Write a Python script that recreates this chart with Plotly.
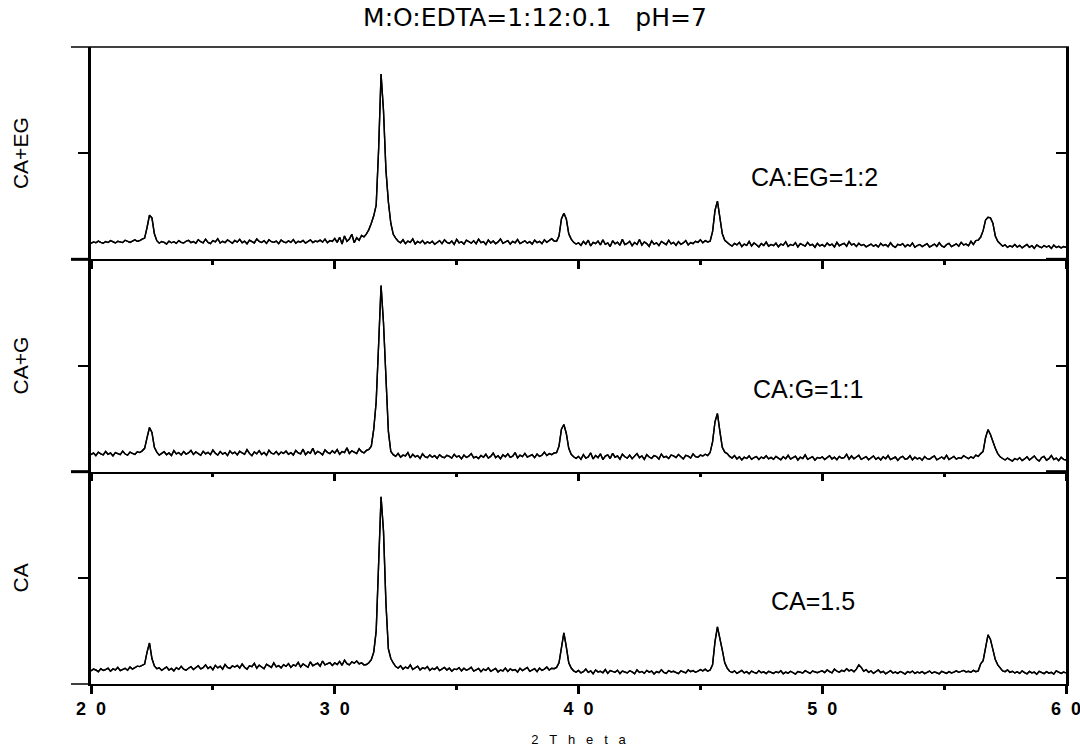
import numpy as np
import plotly.graph_objects as go
from plotly.subplots import make_subplots

# Scan settings: 2-theta from 20 to 60 degrees, 0.1 degree step
TWO_THETA_START = 20.0
TWO_THETA_STEP = 0.1

# Diffraction intensities (arbitrary units, 0-1000 per panel)
ca_eg = [
    75, 82, 78, 86, 80, 76, 84, 79, 88, 81, 77, 85, 83, 79, 90, 84, 80, 86, 92, 85,
    88, 95, 100, 150, 208, 195, 120, 88, 76, 84, 80, 72, 86, 78, 83, 75, 88, 80, 77, 85,
    90, 79, 84, 76, 92, 83, 78, 95, 80, 74, 88, 82, 97, 77, 85, 79, 91, 84, 76, 89,
    81, 94, 78, 86, 73, 90, 82, 77, 96, 84, 79, 88, 75, 92, 83, 80, 86, 74, 91, 82,
    78, 87, 80, 93, 76, 85, 81, 89, 77, 84, 92, 79, 86, 83, 90, 81, 95, 78, 88, 84,
    98, 80, 104, 72, 110, 85, 96, 118, 78, 102, 90, 112, 106, 120, 140, 170, 205, 255, 520, 873,
    700, 420, 270, 170, 118, 100, 85, 78, 92, 74, 86, 80, 96, 72, 84, 77, 88, 73, 82, 76,
    85, 71, 79, 88, 74, 92, 80, 75, 86, 70, 94, 78, 83, 72, 90, 81, 76, 87, 73, 95,
    79, 84, 70, 91, 77, 86, 73, 82, 96, 75, 80, 88, 72, 85, 78, 93, 74, 81, 87, 76,
    83, 72, 90, 79, 85, 74, 92, 80, 88, 97, 86, 85, 110, 190, 217, 190, 120, 95, 80, 72,
    78, 66, 84, 72, 90, 63, 80, 74, 86, 68, 92, 71, 77, 60, 88, 73, 81, 66, 94, 70,
    75, 85, 64, 79, 70, 93, 67, 82, 74, 61, 87, 72, 78, 65, 84, 76, 69, 90, 73, 80,
    66, 83, 71, 77, 88, 68, 79, 74, 85, 80, 92, 78, 88, 82, 85, 130, 230, 274, 200, 120,
    90, 78, 70, 62, 75, 68, 80, 60, 72, 66, 84, 63, 77, 69, 58, 74, 65, 81, 62, 70,
    64, 76, 59, 72, 67, 83, 61, 70, 65, 78, 58, 74, 68, 62, 80, 66, 71, 57, 75, 63,
    69, 60, 77, 66, 72, 58, 80, 64, 70, 75, 62, 84, 68, 73, 61, 76, 65, 70, 59, 67,
    72, 62, 68, 58, 75, 64, 70, 60, 78, 63, 56, 71, 66, 74, 59, 69, 62, 77, 57, 65,
    70, 60, 67, 74, 58, 65, 72, 61, 78, 63, 57, 69, 75, 60, 66, 73, 62, 80, 68, 72,
    64, 85, 70, 88, 90, 105, 135, 185, 198, 195, 170, 110, 85, 75, 62, 68, 56, 64, 59, 70,
    58, 66, 54, 62, 70, 57, 64, 52, 68, 60, 55, 65, 58, 63, 51, 67, 56, 61, 54, 60,
    57,
]

ca_g = [
    80, 88, 76, 92, 84, 79, 95, 82, 88, 74, 90, 85, 80, 97, 83, 78, 92, 86, 81, 94,
    90, 98, 110, 160, 208, 185, 115, 92, 78, 86, 94, 80, 88, 76, 99, 84, 90, 79, 95, 83,
    88, 100, 81, 93, 86, 77, 96, 84, 91, 80, 102, 87, 78, 95, 83, 90, 76, 98, 85, 92,
    79, 96, 88, 82, 104, 86, 75, 93, 84, 99, 81, 90, 77, 101, 87, 83, 95, 80, 92, 86,
    97, 82, 90, 78, 100, 88, 84, 106, 80, 93, 87, 110, 83, 96, 89, 79, 102, 91, 85, 98,
    88, 104, 82, 95, 90, 112, 86, 98, 92, 85, 108, 94, 88, 100, 105, 120, 200, 330, 600, 877,
    700, 430, 190, 95, 80, 72, 86, 68, 78, 74, 90, 65, 82, 70, 76, 62, 84, 71, 66, 79,
    68, 75, 63, 80, 70, 66, 77, 72, 64, 81, 69, 74, 60, 78, 67, 73, 85, 65, 71, 62,
    76, 68, 82, 64, 72, 88, 66, 75, 61, 79, 70, 84, 67, 73, 90, 65, 78, 71, 86, 69,
    74, 80, 66, 83, 72, 78, 92, 76, 85, 80, 88, 90, 120, 200, 222, 180, 110, 82, 70, 63,
    72, 58, 80, 64, 69, 88, 60, 76, 66, 84, 57, 73, 79, 62, 86, 68, 74, 59, 82, 70,
    64, 78, 61, 72, 85, 66, 74, 58, 80, 69, 63, 76, 71, 59, 83, 67, 72, 62, 78, 74,
    66, 81, 70, 60, 77, 73, 64, 84, 71, 68, 78, 74, 82, 76, 90, 140, 235, 274, 190, 115,
    92, 85, 72, 64, 76, 60, 70, 55, 68, 62, 74, 58, 66, 71, 57, 69, 63, 75, 60, 67,
    58, 72, 64, 56, 70, 61, 77, 59, 66, 73, 55, 68, 62, 79, 58, 65, 71, 54, 67, 63,
    70, 57, 64, 75, 60, 68, 56, 72, 63, 66, 82, 59, 74, 61, 69, 77, 58, 65, 71, 56,
    63, 74, 58, 67, 55, 70, 61, 76, 57, 64, 69, 53, 66, 72, 59, 62, 75, 56, 68, 60,
    65, 54, 71, 61, 58, 67, 74, 56, 63, 69, 60, 77, 57, 64, 72, 59, 66, 62, 75, 68,
    61, 70, 64, 78, 72, 85, 95, 160, 198, 175, 140, 110, 85, 70, 62, 55, 64, 58, 50, 62,
    56, 66, 52, 60, 70, 55, 63, 74, 58, 50, 66, 72, 54, 61, 76, 57, 64, 52, 68, 58,
    55,
]

ca = [
    62, 70, 66, 58, 72, 64, 68, 75, 60, 71, 66, 78, 63, 69, 74, 65, 80, 70, 76, 84,
    82, 88, 94, 150, 193, 120, 85, 72, 76, 64, 71, 80, 66, 73, 62, 77, 69, 83, 70, 65,
    74, 82, 68, 79, 86, 71, 77, 90, 73, 81, 67, 88, 76, 84, 70, 92, 78, 73, 85, 80,
    88, 75, 94, 79, 70, 86, 82, 97, 74, 89, 80, 72, 93, 84, 78, 99, 81, 87, 76, 91,
    83, 96, 78, 90, 85, 102, 80, 94, 88, 79, 104, 86, 92, 98, 84, 108, 90, 95, 101, 87,
    99, 92, 106, 88, 112, 96, 90, 104, 98, 108, 95, 100, 90, 92, 100, 115, 150, 250, 560, 882,
    720, 380, 165, 120, 99, 82, 75, 86, 70, 80, 74, 90, 68, 78, 84, 66, 76, 72, 82, 64,
    74, 69, 80, 63, 72, 78, 66, 75, 60, 71, 68, 77, 62, 74, 65, 70, 79, 61, 67, 73,
    58, 70, 64, 76, 60, 68, 73, 57, 66, 62, 75, 59, 71, 64, 68, 56, 74, 63, 69, 78,
    60, 67, 72, 58, 75, 64, 70, 80, 66, 74, 72, 78, 100, 170, 241, 175, 100, 75, 62, 56,
    64, 52, 58, 70, 55, 62, 48, 66, 57, 60, 53, 68, 50, 63, 58, 55, 65, 49, 61, 56,
    52, 62, 57, 48, 66, 54, 59, 50, 64, 56, 61, 47, 58, 53, 67, 55, 50, 63, 57, 60,
    54, 49, 62, 57, 52, 66, 58, 63, 55, 60, 68, 62, 70, 60, 66, 90, 200, 269, 220, 160,
    100, 75, 60, 54, 62, 50, 57, 64, 52, 58, 48, 61, 55, 50, 63, 53, 57, 49, 60, 55,
    50, 58, 53, 62, 48, 56, 51, 60, 54, 47, 59, 55, 52, 63, 57, 50, 61, 56, 53, 58,
    62, 54, 66, 58, 52, 70, 60, 56, 64, 59, 72, 62, 67, 58, 70, 90, 78, 60, 68, 55,
    62, 50, 58, 66, 54, 60, 48, 57, 63, 52, 56, 50, 59, 54, 47, 58, 53, 61, 50, 56,
    52, 58, 49, 55, 61, 51, 57, 53, 48, 60, 54, 50, 58, 52, 56, 62, 55, 59, 64, 57,
    60, 55, 64, 58, 62, 95, 110, 170, 231, 210, 165, 115, 90, 75, 62, 58, 66, 55, 60, 52,
    57, 50, 62, 54, 48, 59, 52, 56, 46, 60, 53, 49, 58, 51, 55, 47, 62, 54, 50, 56,
    52,
]

panel_names = ["CA+EG", "CA+G", "CA"]
panel_notes = ["CA:EG=1:2", "CA:G=1:1", "CA=1.5"]
note_x = [49.7, 49.4, 49.6]
note_y = [390, 390, 390]

NB = "\u00a0"
x_tick_vals = [20, 30, 40, 50, 60]
x_tick_text = [f"{v // 10}{NB * 2}0" for v in x_tick_vals]
x_minor_vals = [25, 35, 45, 55]
x_title = (NB * 3).join("2Theta")

series = [ca_eg, ca_g, ca]
n_points = len(ca)
two_theta = np.round(TWO_THETA_START + TWO_THETA_STEP * np.arange(n_points), 2)

FONT = "Liberation Sans, Arial, sans-serif"
TITLE_FONT = "DejaVu Sans, sans-serif"
Y_RANGE = [0, 1000]

fig = make_subplots(rows=3, cols=1, shared_xaxes=True, vertical_spacing=0)

for i, ys in enumerate(series):
    fig.add_trace(
        go.Scatter(x=two_theta, y=ys, mode="lines",
                   line=dict(color="black", width=1.4), showlegend=False,
                   hoverinfo="skip"),
        row=i + 1, col=1,
    )

# x axes: one baseline per panel, tick labels only on the bottom one
for i in range(3):
    key = "xaxis" if i == 0 else f"xaxis{i + 1}"
    fig.layout[key].update(
        range=[20, 60], showline=True, linecolor="black", linewidth=1.5,
        ticks="outside", ticklen=8, tickwidth=3, tickcolor="black",
        tickvals=x_tick_vals, ticktext=x_tick_text, automargin=False,
        ticklabeloverflow="allow",
        showticklabels=(i == 2), showgrid=False, zeroline=False,
        minor=dict(tickvals=x_minor_vals, ticks="outside", ticklen=4,
                   tickwidth=3, tickcolor="black", showgrid=False),
        tickfont=dict(family=FONT, size=18, color="black", weight="bold"),
    )
fig.layout.xaxis3.title = dict(
    text=x_title, font=dict(family=FONT, size=13, color="black"), standoff=19,
)

# left y axes with outside tick and panel titles
for i in range(3):
    key = "yaxis" if i == 0 else f"yaxis{i + 1}"
    fig.layout[key].update(
        range=Y_RANGE, showline=True, linecolor="black", linewidth=3,
        ticks="outside", ticklen=10, tickwidth=1.5, tickcolor="black",
        tickvals=[500], showticklabels=False, showgrid=False, zeroline=False,
        automargin=False,
        title=dict(text=panel_names[i], standoff=44,
                   font=dict(family=FONT, size=21, color="black")),
    )

# right-hand y axes with inside ticks
for i in range(3):
    yref = "y" if i == 0 else f"y{i + 1}"
    xref = "x" if i == 0 else f"x{i + 1}"
    fig.layout[f"yaxis{i + 4}"] = dict(
        overlaying=yref, anchor=xref, side="right", range=Y_RANGE,
        showline=True, linecolor="black", linewidth=3, automargin=False,
        ticks="inside", ticklen=10, tickwidth=1.5, tickcolor="black",
        tickvals=[500], showticklabels=False, showgrid=False, zeroline=False,
    )
    fig.add_trace(
        go.Scatter(x=two_theta, y=series[i], mode="lines",
                   line=dict(color="black", width=1.4), showlegend=False,
                   hoverinfo="skip", xaxis=xref, yaxis=f"y{i + 4}"),
    )

# frame extensions past the axes
ext = 20 / 975
shapes = []
for i in range(3):
    ydom = ("y" if i == 0 else f"y{i + 1}") + " domain"
    w = 3 if i < 2 else 1.5
    shapes.append(dict(type="line", xref="paper", yref=ydom, x0=-ext, x1=0, y0=0, y1=0,
                       line=dict(color="black", width=w)))
    if i < 2:
        shapes.append(dict(type="line", xref="paper", yref=ydom, x0=1 - ext, x1=1, y0=0, y1=0,
                           line=dict(color="black", width=3)))
shapes.append(dict(type="line", xref="paper", yref="y domain", x0=-ext, x1=1.003, y0=1, y1=1,
                   line=dict(color="black", width=1.5)))

annotations = []
for i in range(3):
    xref = "x" if i == 0 else f"x{i + 1}"
    yref = "y" if i == 0 else f"y{i + 1}"
    annotations.append(dict(x=note_x[i], y=note_y[i], xref=xref, yref=yref,
                            text=panel_notes[i], showarrow=False,
                            font=dict(family=FONT, size=25, color="black")))

fig.update_layout(
    width=1080, height=747,
    margin=dict(l=91, r=14, t=47, b=63, autoexpand=False),
    paper_bgcolor="white", plot_bgcolor="white",
    title=dict(text=f"M:O:EDTA=1:12:0.1{NB * 3}pH=7", x=535 / 1080, xref="container",
               xanchor="center", y=1 - 17 / 747, yref="container", yanchor="middle",
               font=dict(family=TITLE_FONT, size=25, color="black")),
    shapes=shapes, annotations=annotations,
    showlegend=False,
)

fig.write_html("out.html")
